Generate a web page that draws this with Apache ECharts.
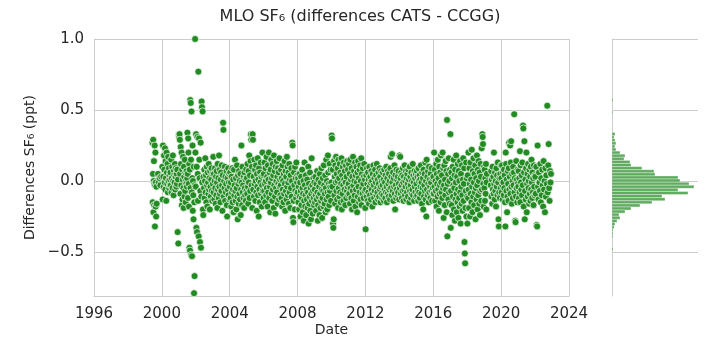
<!DOCTYPE html>
<html><head><meta charset="utf-8">
<script src="https://cdn.jsdelivr.net/npm/echarts@6/dist/echarts.min.js"></script>
<style>html,body{margin:0;padding:0;background:#fff}#c{width:720px;height:360px}</style>
</head><body><div id="c"></div>
<script>
const titleText = 'MLO SF₆ (differences CATS - CCGG)';
const xName = 'Date';
const yName = 'Differences SF₆ (ppt)';
const xTicks = [1996, 2000, 2004, 2008, 2012, 2016, 2020, 2024];
const yTicks = [-0.5, 0, 0.5, 1.0];

// time segments (decimal years) and the differences read in each (hundredths of ppt)
const segStart = [1999.44, 1999.75, 2000.02, 2000.50, 2001.00, 2001.50, 2001.95, 2002.45, 2003, 2004, 2005, 2006, 2007, 2008, 2009, 2010, 2011, 2012, 2013, 2014, 2015, 2016, 2017, 2018, 2019.00, 2019.38, 2020, 2021, 2022.00];
const segEnd   = [1999.70, 1999.98, 2000.50, 2000.98, 2001.50, 2001.95, 2002.45, 2003.00, 2004, 2005, 2006, 2007, 2008, 2009, 2010, 2011, 2012, 2013, 2014, 2015, 2016, 2017, 2018, 2019, 2019.17, 2020.00, 2021, 2022, 2022.95];
const segValues = [
  [27, -15, 5, 29, -22, 0, 14, -17, -2, 25, -32, -3, 20, -18, -1, -25, -4, -16],
  [5, -1, 2, -3, 3],
  [10, -13, 25, 3, -4, 18, 8, -1, 23, -6, 14, 2, -14, 20, 6, -2, 12, -8, 17, 0, 9, -5, 4, -3, 1],
  [6, -3, 15, -8, 2, 10, -5, 18, 0, -10, 7, 4, -1, 12, -6, 3, 9, -4, 5, -2, 8, -36, 1, -44],
  [33, 31, 33, 29, 5, -9, 24, 12, -3, 20, -17, 8, -13, 1, 17, -5, -19, 10, 3, -11, 15, -7, 6, -15, 0, -2, 7, -4, 2],
  [34, 5, -12, 30, 20, -2, -18, 12, -47, 8, -49, 57, -5, 55, 15, -52, 49, -8, -53, 2, 25, -21, 0, -10, -27, 10, -79, -15, -67, -3],
  [100, 20, -4, 33, -33, 10, -36, 31, 5, -14, 77, -39, 30, 15, 2, -43, -7, 27, -47, -11, 56, 52, -1, 49, -20, -24],
  [3, -5, 8, -12, 0, 16, -8, 4, -15, 10, -3, -18, 6, -1, -9, 12, -6, 2, -20, 7, -4, -11, 1, 9, -7, -14, 5],
  [-2, 17, -8, 5, -13, 0, 9, -5, -16, 3, -10, 7, -1, -19, 12, -6, 2, -12, 18, -4, 8, -9, -15, 1, 6, -7, 11, -3, -21, 4, 41, 36, -11, 0, -5, 10, -14, 3, -8, -2, 7, -17, -25, 2, -6, 9, -10, -1, 5, -13],
  [-4, 6, -12, -1, -18, 3, -8, 9, -15, -6, 1, -22, 8, -10, -3, 15, -7, -14, 2, -20, -5, 11, -11, -27, 4, -2, -16, 7, -9, 0, -13, 5, -24, -6, 25, -1, -17, 10, -8, -3, -12, 3, -19, 6, -5, -10, 1, -14, 8, -7],
  [2, -9, 12, -4, -16, 7, -1, 18, -12, 4, -7, 14, 33, 29, -3, 10, -19, 33, 29, -6, 3, -11, 15, -2, 8, -14, 0, 11, -8, -21, 5, -4, 16, -10, 1, -25, 9, -6, -15, 6, -1, 13, -9, 3, -18, -3, 20, -7, 4, -12],
  [5, -7, 13, -2, -15, 9, 0, -10, 17, -5, 3, -18, 11, -8, 1, 20, -12, 6, -4, -22, 8, -1, 15, -9, 2, -14, 12, -6, 4, -19, 18, -3, 7, -11, -23, 10, -5, 0, 14, -8, 3, -16, 9, -2, 6, -13, 16, -4, 1, -10],
  [-3, 8, -12, 2, -18, 11, -6, 0, -15, 5, -9, 14, -2, -21, 7, -7, 3, -13, 17, -4, 10, -10, -1, 6, -16, 12, -8, 1, -19, 4, -5, 9, -11, 0, 27, 25, -26, -29, -14, 6, -3, -20, 10, -7, 2, -12, 13, -9, -1, 4],
  [-8, 2, -15, -4, -20, 5, -11, -1, -25, -7, 3, -17, -12, 8, -5, -22, -9, 0, -28, -14, 13, -3, -18, -10, 4, -24, -6, -13, 1, -19, -8, 10, -30, -2, -16, -11, 6, -21, -5, -27, -9, 16, -14, -3, -23, -7, 2, -12, -17, -1],
  [-6, -15, 3, -10, -21, -2, -13, 7, -8, -28, -17, 1, -11, -4, -24, 5, -9, -19, -1, -14, 9, -6, -26, -12, 2, -7, -18, 11, -3, -16, -9, 4, -22, -5, 15, -13, 0, -20, -8, 18, 6, -11, -2, -17, 12, -7, -4, 8, -14, -1],
  [32, 30, -4, 8, -30, -33, -27, 14, -10, 3, -16, 11, -1, 17, -7, 5, -13, 0, 9, -19, 15, -5, 2, -11, 12, -8, 6, -15, -2, 16, -20, 4, -9, 10, -3, -14, 13, 1, -6, 7, -17, -1, 11, -12, 3, -7, 14, -4, 8, -10],
  [-2, 12, -9, 5, -16, 15, -5, 1, -12, 9, -20, 3, -7, 17, -3, -14, 7, 0, -10, 13, -18, 4, -6, 10, -1, -22, 6, -11, 14, -4, 2, -15, 8, -8, 11, -13, 0, 16, -17, 5, -5, -9, 9, -2, -12, 3, 12, -7, 1, -19],
  [-34, -6, 4, -11, 9, -2, -14, 6, -8, 1, -16, 10, -4, -10, 3, -1, -13, 7, -6, 0, -18, 5, -9, 11, -3, -12, 2, -7, 8, -15, -1, 4, -10, 12, -5, -8, 1, -13, 6, -2, -11, 9, -6, 3, -15, -4, 7, -9, 0, -12],
  [-3, 6, -10, 1, -14, 8, -6, -1, -12, 4, -8, 10, -4, -15, 2, -9, 7, -2, -11, 5, -6, 0, -13, 9, 17, -5, 3, -10, 19, -1, -7, 6, -14, 2, -4, 11, -9, -20, 4, -3, -12, 8, -6, 1, -10, 3, -8, 7, -2, -13],
  [18, -5, 17, 2, -9, 6, -3, -12, 4, -7, 9, -1, -14, 3, -6, 11, -10, 0, -4, 7, -13, 2, -8, 5, -2, -11, 8, -5, 1, -15, 10, -7, 3, -3, -12, 6, -9, 0, -6, 12, -10, 4, -1, -14, 7, -4, 2, -8, 5, -11],
  [-2, 7, -10, 3, -6, -14, 9, 0, -8, 4, -12, 1, -4, 11, -9, -1, -16, 6, -5, 2, -20, 8, -11, -3, 5, -7, 13, -13, 0, -25, 15, -6, 3, -10, 7, -2, -15, 10, -8, 1, -4, -12, 5, -1, -7, 9, -14, 2, -5, -9],
  [3, -9, 20, -4, 8, -14, 0, -7, 12, -18, 5, -2, -11, 15, -6, 2, -21, 10, -9, -3, 6, -15, 18, -1, -8, 4, -12, 20, -5, 9, -26, -3, 11, -17, 1, -10, 14, -6, 7, -22, 43, -39, -2, 5, -13, 16, -8, 0, -16, 8],
  [33, -33, -7, 6, -17, 2, -24, 10, -11, -3, 15, -20, -5, 4, -28, 8, -13, -1, 18, -9, -22, 3, -15, 12, -6, -26, 7, -12, 0, -18, 14, -8, -30, 5, -4, -16, 11, -10, -21, 1, 16, -14, -2, 9, -43, -51, -58, -19, -7, 13, -25, 2, -11],
  [-30, 4, -12, 20, -6, -19, 9, -2, -25, 13, -9, 1, -15, 22, -4, -22, 7, -11, 16, -1, -17, 5, -8, 11, -27, -5, 2, -13, 18, -3, -20, 8, -10, 14, 0, -16, 6, -24, -7, 12, 3, -14, 23, -6, 33, 31, 26, -2, -18, 10],
  [-5, 8, -14, 2, -9, 12, -20, -1, 5],
  [-3, 7, -11, 1, -16, 10, -6, 3, -9, 20, -2, -13, 6, -7, 0, -18, 9, -4, 4, -10, 13, -1, -27, -32, -8, 2, -12, 5, -5, 11],
  [2, -8, 11, -3, -13, 6, -1, -10, 8, -5, 4, -15, -32, 20, 12, -7, 1, -22, -11, 7, -2, -14, 9, 27, -6, 3, 25, -9, 13, 28, -4, -16, 5, 0, -12, 10, -3, 6, 47, -8, 2, -28, -29, -11, 14, -5, 1, -15, 8, -2],
  [-4, 7, -12, 2, -8, 21, -15, 11, -1, -6, 4, -10, 13, -3, 39, 37, -18, 6, 28, -27, -7, 1, -13, 9, 20, -22, -2, 5, -11, 12, -5, 0, -16, 8, -9, 3, -14, 10, -6, 15, -1, -12, 6, -8, 2, -17, 11, -4, -10, 4],
  [3, -9, 10, -31, -32, 25, -4, -13, 6, -1, -7, 12, -15, 2, -10, 8, -3, -18, 14, -6, 0, -22, 9, -11, 4, -2, 53, -8, 11, 26, -5, -14, 7, -1, 5]
];

// marginal histogram: counts per bin, from the top bin downwards
const histTopCenter = 0.571;
const histBinWidth = 0.02185;
const histCounts = [1, 0, 0, 0, 1, 0, 0, 0, 0, 0, 0,
  3, 2, 3, 4, 3, 4, 8, 13, 12, 18, 19, 30, 42, 43, 66, 68, 77, 82, 66, 76, 50, 53, 40, 28, 19, 13, 7, 8, 5, 3, 2, 1, 1, 1,
  0, 0, 0, 1];

const points = [];
segValues.forEach((vals, i) => {
  const s = segStart[i], e = segEnd[i], n = vals.length;
  vals.forEach((v, k) => points.push([s + (e - s) * (k + 0.5) / n, v / 100]));
});
const histData = [];
histCounts.forEach((c, j) => {
  if (c <= 0) return;
  const ctr = histTopCenter - j * histBinWidth;
  histData.push([c, ctr - histBinWidth / 2, ctr + histBinWidth / 2]);
});

const txt = '#262626', gridCol = '#cccccc';
const fmtY = v => (Math.abs(v) < 1e-9 ? 0 : v).toFixed(1).replace('-', '\u2212');
const chart = echarts.init(document.getElementById('c'), null, {renderer: 'canvas'});
chart.setOption({
  animation: false,
  backgroundColor: '#fff',
  textStyle: {fontFamily: 'DejaVu Sans'},
  title: {text: titleText, left: 'center', top: 4,
    textStyle: {fontSize: 16, fontWeight: 'normal', color: txt, fontFamily: 'DejaVu Sans'}},
  grid: [
    {left: 94, right: 151, top: 39, bottom: 64},
    {left: 612, right: 22, top: 39, bottom: 64}
  ],
  xAxis: [
    {type: 'value', gridIndex: 0, min: 1996, max: 2024, interval: 4,
      name: xName, nameLocation: 'middle', nameGap: 27, nameMoveOverlap: false,
      nameTextStyle: {fontSize: 14, color: txt},
      axisLine: {show: true, onZero: false, lineStyle: {color: gridCol, width: 1}},
      axisTick: {show: false},
      axisLabel: {fontSize: 15, color: txt, margin: 11, formatter: v => String(v)},
      splitLine: {show: true, lineStyle: {color: gridCol, width: 1}}},
    {type: 'value', gridIndex: 1, min: 0, max: 86, show: false}
  ],
  yAxis: [
    {type: 'value', gridIndex: 0, min: -0.81, max: 1.0,
      name: yName, nameLocation: 'middle', nameGap: 57, nameMoveOverlap: false,
      nameTextStyle: {fontSize: 14, color: txt},
      axisLine: {show: true, onZero: false, lineStyle: {color: gridCol, width: 1}},
      axisTick: {show: false, customValues: yTicks},
      axisLabel: {fontSize: 15, color: txt, margin: 10, customValues: yTicks, formatter: fmtY},
      splitLine: {show: true, lineStyle: {color: gridCol, width: 1}}},
    {type: 'value', gridIndex: 1, min: -0.81, max: 1.0,
      axisLine: {show: true, onZero: false, lineStyle: {color: gridCol, width: 1}},
      axisTick: {show: false, customValues: yTicks},
      axisLabel: {show: false, customValues: yTicks},
      splitLine: {show: true, lineStyle: {color: gridCol, width: 1}}}
  ],
  series: [
    {type: 'scatter', xAxisIndex: 0, yAxisIndex: 0, data: points,
      symbolSize: 7, clip: true,
      itemStyle: {color: '#228b22', borderColor: '#ffffff', borderWidth: 0.7, opacity: 1}},
    {type: 'custom', xAxisIndex: 1, yAxisIndex: 1, data: histData,
      encode: {x: 0, y: [1, 2]}, clip: true,
      renderItem: (params, api) => {
        const p0 = api.coord([0, api.value(2)]);
        const p1 = api.coord([api.value(0), api.value(1)]);
        return {type: 'rect',
          shape: {x: p0[0], y: p0[1], width: p1[0] - p0[0], height: p1[1] - p0[1]},
          style: {fill: 'rgba(34,139,34,0.72)', stroke: 'rgba(255,255,255,0.6)', lineWidth: 0.6}};
      }}
  ]
});
</script></body></html>
